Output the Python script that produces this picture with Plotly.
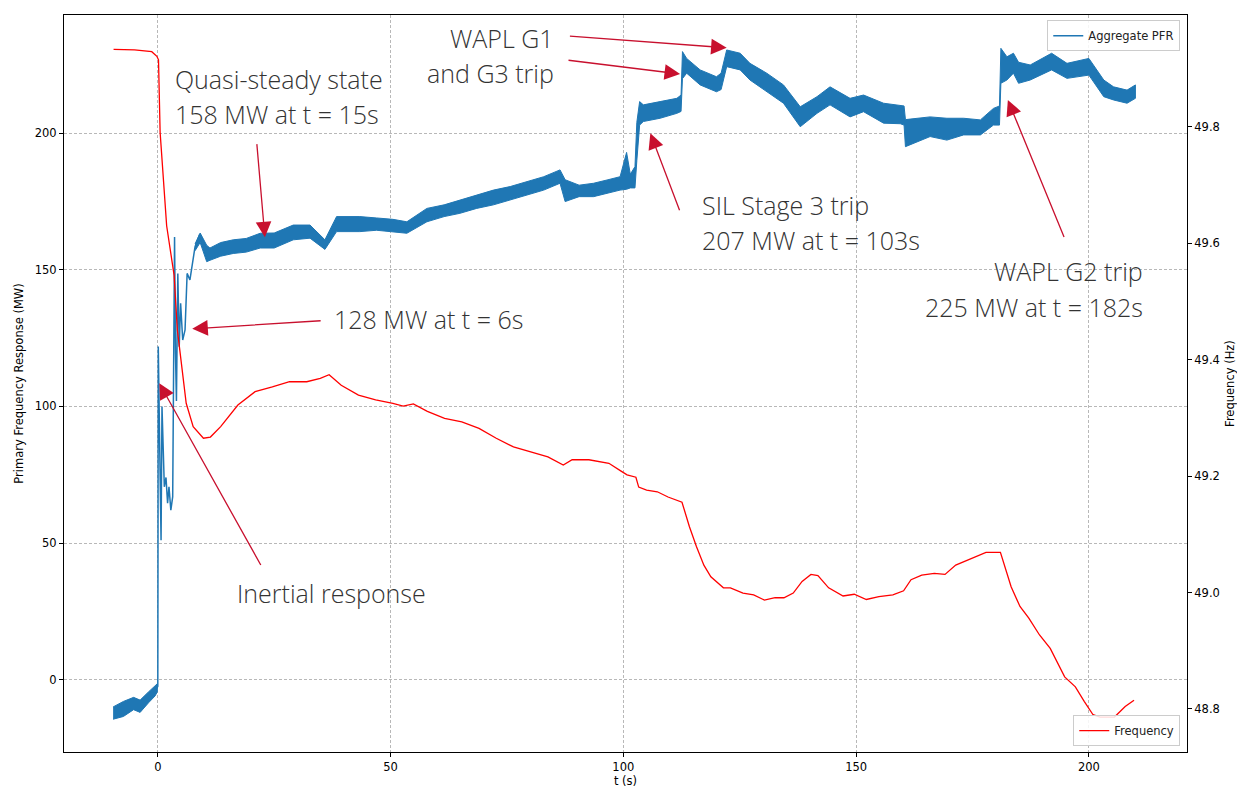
import plotly.graph_objects as go

# ---------------- data ----------------
# Aggregate PFR (MW): pre-event noisy band
t_pre = [-9.6, -7.4, -5.2, -3.8, -2.0, -0.6, -0.1]
pre_hi = [-10.0, -8.0, -6.5, -7.5, -4.5, -2.0, -1.5]
pre_lo = [-14.5, -13.5, -11.0, -12.0, -8.5, -6.0, -4.5]

# Aggregate PFR (MW): transient after the event
t_tr = [-0.3, 0.0, 0.1, 0.3, 0.7, 0.9, 1.2, 1.4, 1.76, 2.1, 2.4, 2.8, 3.2, 3.4,
        3.6, 3.8, 4.0, 4.3, 4.6, 4.9, 5.35, 5.85, 6.3, 6.9, 8.0, 9.0]
pfr_tr = [-3.5, -2.5, 121.9, 95.0, 51.0, 100.0, 83.0, 70.6, 74.0, 64.6, 70.6, 62.0,
          67.0, 102.0, 162.0, 119.5, 102.0, 148.7, 121.9, 137.8, 124.3, 128.0,
          148.7, 146.3, 158.5, 163.0]

# Aggregate PFR (MW): noisy band, upper and lower envelope
t_band = [8.0, 9.1, 10.5, 11.2, 13.5, 16.2, 19.0, 22.0, 25.0, 29.1, 32.7, 35.9,
          38.4, 43.4, 47.0, 50.5, 53.5, 57.8, 61.5, 64.9, 68.5, 72.1, 75.7, 79.3,
          82.9, 86.4, 87.5, 90.5, 93.6, 96.5, 99.3, 100.7, 101.5, 102.5, 102.9,
          103.5, 104.3, 107.9, 111.5, 112.4, 112.7, 113.6, 116.5, 120.0, 121.0,
          122.2, 125.1, 127.2, 130.8, 134.4, 138.0, 141.6, 144.4, 148.7, 151.6,
          155.9, 159.5, 160.3, 160.6, 165.9, 169.5, 173.1, 176.7, 179.5, 180.8,
          181.1, 182.4, 183.8, 184.9, 187.4, 192.0, 195.3, 200.0, 203.2, 205.3,
          208.2, 210.0]
band_hi = [159.5, 163.5, 159.0, 158.0, 160.0, 161.0, 161.5, 163.4, 163.5, 166.4,
           166.4, 161.0, 169.5, 169.5, 169.0, 168.5, 167.6, 172.5, 173.8, 175.6,
           177.4, 179.2, 180.5, 182.3, 184.1, 186.6, 183.0, 181.0, 181.7, 182.9,
           184.1, 193.0, 185.0, 187.8, 204.0, 211.6, 210.4, 211.6, 212.8, 214.0,
           229.9, 227.4, 223.2, 220.7, 222.0, 230.5, 229.3, 225.6, 222.0, 217.7,
           209.7, 213.4, 217.0, 212.8, 214.0, 211.0, 210.0, 210.0, 205.0, 206.0,
           205.5, 205.5, 204.9, 209.1, 210.0, 231.1, 228.0, 229.3, 226.0, 225.0,
           229.3, 225.6, 227.4, 219.5, 217.0, 215.8, 217.7]
band_lo = [157.0, 160.0, 153.0, 153.5, 155.0, 156.0, 156.5, 158.0, 158.0, 161.0,
           161.6, 157.5, 164.0, 164.0, 164.5, 164.0, 163.4, 167.6, 169.5, 170.7,
           172.5, 173.8, 175.6, 177.4, 179.2, 181.7, 175.0, 176.8, 176.8, 178.0,
           179.2, 179.5, 180.0, 180.0, 190.0, 203.0, 204.3, 205.5, 207.3, 208.0,
           220.0, 222.0, 217.7, 215.2, 216.0, 224.4, 223.2, 219.5, 215.2, 211.0,
           202.4, 207.3, 210.4, 206.0, 207.9, 203.7, 203.5, 203.0, 195.1, 198.8,
           197.5, 199.4, 199.4, 203.0, 203.0, 218.3, 219.5, 222.0, 218.3, 219.5,
           223.2, 220.1, 221.3, 213.4, 212.2, 211.0, 212.8]

# Frequency (Hz)
t_freq = [-9.5, -5.0, -1.3, -0.2, 0.15, 0.5, 1.9, 3.0, 3.5, 4.2, 5.0, 6.1, 7.6,
          9.8, 11.3, 13.5, 17.2, 20.9, 24.6, 28.3, 32.0, 34.9, 36.8, 39.4, 43.1,
          46.8, 50.5, 52.7, 54.9, 57.9, 61.6, 65.3, 69.0, 72.7, 76.4, 80.1, 83.8,
          87.1, 89.0, 92.6, 96.9, 99.6, 100.8, 102.7, 103.3, 105.0, 107.3, 109.6,
          112.6, 114.2, 115.7, 117.3, 118.8, 121.5, 123.0, 125.7, 128.0, 130.3,
          132.6, 134.5, 136.5, 138.4, 140.3, 141.8, 144.1, 147.2, 149.6, 152.2,
          154.9, 157.9, 160.2, 161.8, 164.1, 166.8, 169.1, 171.4, 174.1, 176.4,
          177.9, 181.0, 183.3, 185.2, 187.1, 189.4, 191.7, 194.8, 197.1, 199.0,
          200.9, 202.4, 205.5, 207.8, 209.7]
freq = [49.933, 49.932, 49.929, 49.921, 49.915, 49.790, 49.630, 49.570, 49.545,
        49.451, 49.394, 49.325, 49.285, 49.265, 49.267, 49.285, 49.322, 49.345,
        49.353, 49.362, 49.362, 49.368, 49.374, 49.356, 49.339, 49.331, 49.325,
        49.320, 49.324, 49.311, 49.299, 49.293, 49.282, 49.265, 49.250, 49.242,
        49.233, 49.219, 49.228, 49.228, 49.222, 49.208, 49.202, 49.198, 49.181,
        49.176, 49.173, 49.164, 49.155, 49.113, 49.079, 49.047, 49.027, 49.008,
        49.008, 48.999, 48.996, 48.987, 48.991, 48.991, 48.999, 49.019, 49.031,
        49.029, 49.008, 48.994, 48.997, 48.988, 48.993, 48.996, 49.003, 49.022,
        49.030, 49.033, 49.031, 49.047, 49.056, 49.063, 49.069, 49.069, 49.010,
        48.976, 48.956, 48.927, 48.904, 48.855, 48.838, 48.813, 48.790, 48.786,
        48.786, 48.804, 48.815]

x_ticks = [0, 50, 100, 150, 200]
mw_ticks = [0, 50, 100, 150, 200]
hz_ticks = [48.8, 49.0, 49.2, 49.4, 49.6, 49.8]
hz_labels = ["48.8", "49.0", "49.2", "49.4", "49.6", "49.8"]

# annotation texts: (text, x, y, xanchor)
notes = [
    ("Quasi-steady state", 3.33, 219.9, "left"),
    ("158 MW at t = 15s", 3.33, 207.1, "left"),
    ("128 MW at t = 6s", 37.5, 132.0, "left"),
    ("Inertial response", 16.6, 31.7, "left"),
    ("WAPL G1", 85.6, 234.9, "right"),
    ("and G3 trip", 85.6, 222.1, "right"),
    ("SIL Stage 3 trip", 116.5, 173.9, "left"),
    ("207 MW at t = 103s", 116.5, 161.1, "left"),
    ("WAPL G2 trip", 212.1, 149.6, "right"),
    ("225 MW at t = 182s", 212.1, 136.4, "right"),
]
# arrows: (head_t, head_mw, tail_t, tail_mw)
arrows = [
    (23.0, 161.9, 21.25, 196.6),
    (7.4, 128.4, 35.3, 131.4),
    (0.32, 108.5, 22.3, 41.4),
    (122.2, 231.3, 88.2, 235.6),
    (112.2, 221.7, 87.9, 226.8),
    (105.8, 200.0, 112.2, 171.3),
    (182.6, 212.2, 194.8, 161.5),
]

# ---------------- figure ----------------
BLUE = "#1f77b4"
fig = go.Figure()
fig.add_trace(go.Scatter(
    x=t_pre + t_pre[::-1], y=pre_hi + pre_lo[::-1], mode="lines",
    fill="toself", fillcolor=BLUE, line=dict(color=BLUE, width=1),
    showlegend=False, hoverinfo="skip"))
fig.add_trace(go.Scatter(
    x=t_tr, y=pfr_tr, mode="lines", line=dict(color=BLUE, width=1.5),
    name="Aggregate PFR", legend="legend"))
fig.add_trace(go.Scatter(
    x=t_band + t_band[::-1], y=band_hi + band_lo[::-1], mode="lines",
    fill="toself", fillcolor=BLUE, line=dict(color=BLUE, width=1),
    showlegend=False, hoverinfo="skip"))
fig.add_trace(go.Scatter(
    x=t_freq, y=freq, mode="lines", yaxis="y2",
    line=dict(color="#ff0000", width=1.3),
    name="Frequency", legend="legend2"))

ann = []
ARROW = "#c8102e"
for head_t, head_mw, tail_t, tail_mw in arrows:
    ann.append(dict(x=head_t, y=head_mw, ax=tail_t, ay=tail_mw,
                    xref="x", yref="y", axref="x", ayref="y", text="",
                    showarrow=True, arrowhead=2, arrowsize=2.4,
                    arrowwidth=1.3, arrowcolor=ARROW, standoff=0))
for text, x, y, xa in notes:
    ann.append(dict(x=x, y=y, xref="x", yref="y", text=text, showarrow=False,
                    xanchor=xa, yanchor="middle",
                    font=dict(family="Open Sans", size=25, color="#333333",
                              weight=300)))

FS = 11.5
axis_common = dict(showline=True, linecolor="black", linewidth=1,
                   ticks="outside", ticklen=4, tickcolor="black",
                   zeroline=False,
                   tickfont=dict(family="DejaVu Sans", size=FS, color="black"))
GRID = dict(showgrid=True, gridcolor="#b8b8b8", griddash="3px,2px",
            gridwidth=0.8)

fig.update_layout(
    width=1237, height=790,
    margin=dict(l=64, r=50, t=15, b=38, autoexpand=False),
    paper_bgcolor="white", plot_bgcolor="white",
    font=dict(family="DejaVu Sans", size=FS, color="black"),
    xaxis=dict(range=[-20.15, 221.08], tickvals=x_ticks, mirror=True,
               title=dict(text="t (s)", standoff=2,
                          font=dict(family="DejaVu Sans", size=FS)),
               **GRID, **axis_common),
    yaxis=dict(range=[-26.5, 243.3], tickvals=mw_ticks,
               title=dict(text="Primary Frequency Response (MW)", standoff=8,
                          font=dict(family="DejaVu Sans", size=FS)),
               **GRID, **axis_common),
    yaxis2=dict(range=[48.726, 49.992], overlaying="y", side="right",
                tickvals=hz_ticks, ticktext=hz_labels, showgrid=False,
                title=dict(text="Frequency (Hz)", standoff=9,
                           font=dict(family="DejaVu Sans", size=FS)),
                **axis_common),
    legend=dict(x=0.994, y=0.993, xanchor="right", yanchor="top",
                bgcolor="rgba(255,255,255,0.85)", bordercolor="#cccccc",
                borderwidth=1, itemwidth=30,
                font=dict(family="DejaVu Sans", size=FS, color="#222222")),
    legend2=dict(x=0.994, y=0.008, xanchor="right", yanchor="bottom",
                 bgcolor="rgba(255,255,255,0.85)", bordercolor="#cccccc",
                 borderwidth=1, itemwidth=30,
                 font=dict(family="DejaVu Sans", size=FS, color="#222222")),
    annotations=ann,
    showlegend=True,
)

# remove the default page margin and scrollbars so the figure fills the window
fig.write_html(
    "out.html",
    config={"displayModeBar": False},
    post_script="document.body.style.margin='0';"
                "document.body.style.overflow='hidden';"
                "document.documentElement.style.overflow='hidden';")
